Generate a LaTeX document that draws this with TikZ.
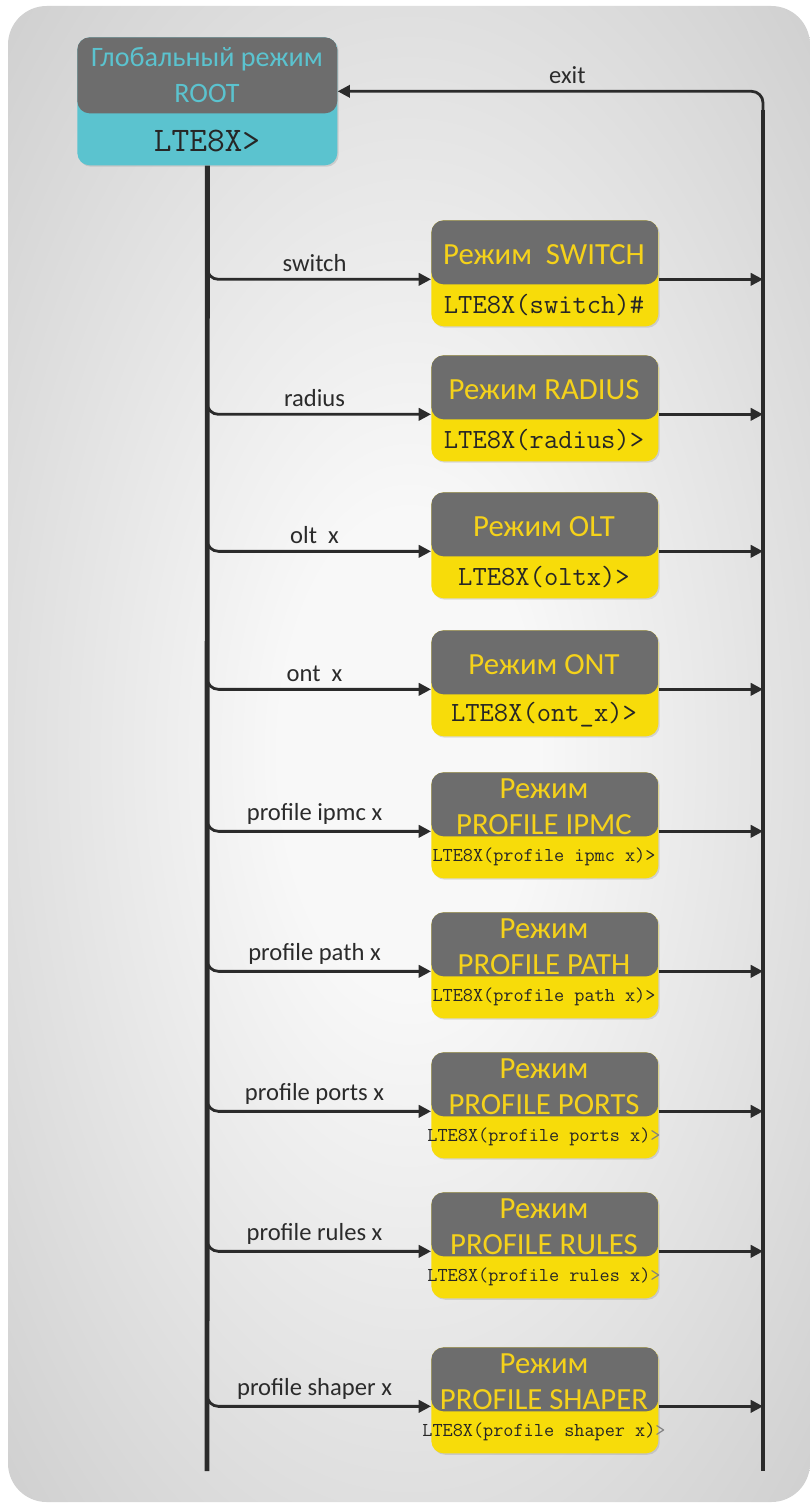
\documentclass[tikz,border=0pt]{standalone}
\usepackage{fontspec}
\setmainfont{Carlito}
\usetikzlibrary{arrows.meta,shadows}

\definecolor{modegray}{HTML}{6D6D6D}
\definecolor{modeyellow}{HTML}{F7DC0A}
\definecolor{rootteal}{HTML}{5BC3CF}
\definecolor{titleyellow}{HTML}{F5D21A}
\definecolor{linedark}{HTML}{2B2B2B}
\definecolor{bgin}{HTML}{F8F8F8}
\definecolor{bgout}{HTML}{C6C6C6}
\pgfdeclareradialshading{bgglow}{\pgfpoint{0bp}{0bp}}{color(0bp)=(bgin); color(8bp)=(bgin); color(42bp)=(bgout); color(50bp)=(bgout)}

\begin{document}
\begin{tikzpicture}[
    x=0.02cm, y=-0.02cm,
    every node/.style={font=\fontsize{14}{16}\selectfont, text=linedark},
    >={Triangle[length=7pt,width=7pt]},
    trunk/.style={draw=linedark, line width=2.8pt},
    branch/.style={draw=linedark, line width=1.6pt, ->, rounded corners=6.5pt},
    modebox/.style={fill=modeyellow, rounded corners=7pt, inner sep=0pt, anchor=north west,
        minimum width=4.54cm, minimum height=2.12cm,
        drop shadow={opacity=0.25, shadow xshift=0.8pt, shadow yshift=-0.8pt},
        path picture={\fill[modegray] (path picture bounding box.north west)
            rectangle ([yshift=-#1]path picture bounding box.north east);}},
    modebox/.default=1.28cm,
    modetitle/.style={font=\fontsize{17.5}{20.5}\selectfont, text=titleyellow, align=center},
    prompt/.style={font=\ttfamily\fontsize{#1}{#1}\selectfont, text=black!85, inner sep=0pt},
]

% === Background panel ===
\useasboundingbox (0,0) rectangle (810,1504);
\shade[shading=bgglow, rounded corners=22pt] (8,6) rectangle (810,1502);

% === ROOT mode ===
\node[modebox=1.52cm, fill=rootteal, minimum width=5.2cm, minimum height=2.56cm] (root) at (77,37) {};
\node[modetitle, font=\fontsize{16}{20}\selectfont, text=rootteal] (rootT) at (207,75) {Глобальный режим\\ROOT};
\node[prompt=19.6] (rootP) at (207,141) {LTE8X>};

% === Configuration modes ===
% top y / name / title / prompt size / prompt / command
\foreach \ytop/\nm/\ttl/\psz/\prm/\lbl in {
    220/sw/{Режим\ \ SWITCH}/15.8/{LTE8X(switch)\#}/switch,
    355/rad/{Режим RADIUS}/15.8/{LTE8X(radius)>}/radius,
    492/olt/{Режим OLT}/15.8/{LTE8X(oltx)>}/{olt\ \ x},
    630/ont/{Режим ONT}/15.8/{LTE8X(ont\_x)>}/{ont\ \ x},
    772/ipmc/{Режим\\PROFILE IPMC}/11.2/{LTE8X(profile ipmc x)>}/{profile ipmc x},
    912/path/{Режим\\PROFILE PATH}/11.2/{LTE8X(profile path x)>}/{profile path x},
    1052/ports/{Режим\\PROFILE PORTS}/11.2/{LTE8X(profile ports x)\textcolor{gray}{>}}/{profile ports x},
    1192/rules/{Режим\\PROFILE RULES}/11.2/{LTE8X(profile rules x)\textcolor{gray}{>}}/{profile rules x},
    1347/shaper/{Режим\\PROFILE SHAPER}/11.2/{LTE8X(profile shaper x)\textcolor{gray}{>}}/{profile shaper x}} {
    \node[modebox] (\nm) at (431,\ytop) {};
    \node[modetitle] (\nm T) at (544,\ytop+35) {\ttl};
    \node[prompt=\psz] (\nm P) at (544,\ytop+85) {\prm};
}

% === Entry and exit lines ===
\coordinate (trunkEnd) at (207,1471);
\coordinate (exitTop) at (763,110);
\coordinate (exitEnd) at (763,1471);
\draw[trunk] (root.south) -- (trunkEnd);
\draw[trunk] (exitTop) -- (exitEnd);
\draw[branch] (exitTop) |- ([yshift=5.7pt]root.east) node[pos=0.73, above] (exitL) {exit};

% enter from ROOT, leave to exit line
\foreach \ytop/\nm/\lbl in {220/sw/switch, 355/rad/radius, 492/olt/{olt\ \ x}, 630/ont/{ont\ \ x},
    772/ipmc/{profile ipmc x}, 912/path/{profile path x}, 1052/ports/{profile ports x},
    1192/rules/{profile rules x}, 1347/shaper/{profile shaper x}} {
    \coordinate (\nm In) at (207,\ytop+45);
    \coordinate (\nm Out) at ([yshift=-0.12cm]\nm.east);
    \draw[branch] (\nm In) |- ([yshift=-0.12cm]\nm.west) node[pos=0.74, above] (\nm L) {\lbl};
    \draw[branch] (\nm Out) -- (\nm Out -| exitEnd);
}

\end{tikzpicture}
\end{document}
